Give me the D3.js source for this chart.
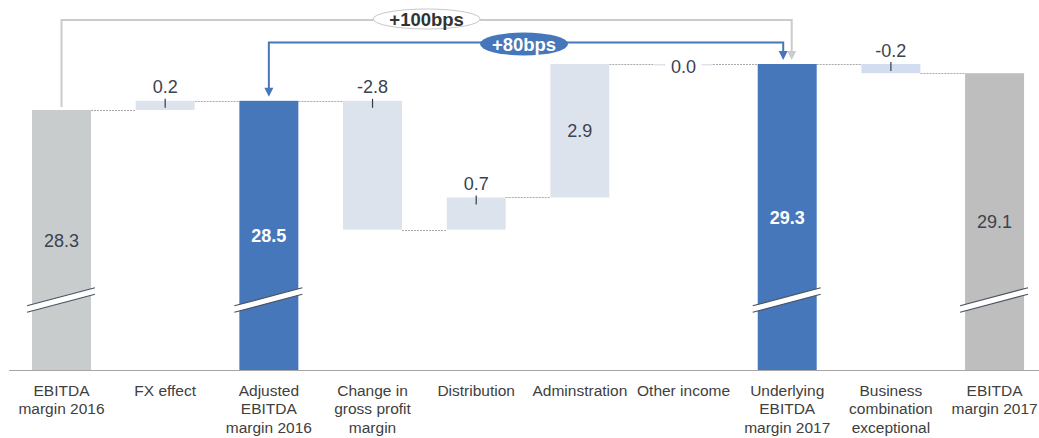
<!DOCTYPE html>
<html><head><meta charset="utf-8">
<script src="https://cdn.jsdelivr.net/npm/d3@7"></script>
<style>body{margin:0;background:#fff}svg{display:block;font-family:"Liberation Sans",Arial,sans-serif}</style>
</head><body><svg id="c" width="1039" height="438"></svg>
<script>
const categories = [["EBITDA","margin 2016"],["FX effect"],["Adjusted","EBITDA","margin 2016"],["Change in","gross profit","margin"],["Distribution"],["Adminstration"],["Other income"],["Underlying","EBITDA","margin 2017"],["Business","combination","exceptional"],["EBITDA","margin 2017"]];
const values = [28.3, 0.2, 28.5, -2.8, 0.7, 2.9, 0.0, 29.3, -0.2, 29.1];
const kinds = ["total","delta","total","delta","delta","delta","delta","total","delta","total"];
const colors = ["#c9cccc","#dde3ed","#4677bb","#dde3ed","#dde3ed","#dde3ed","#dde3ed","#4677bb","#d2ddef","#bebebe"];
const labelPos = ["inside","above","insideBold","above","above","inside","line","insideBold","above","inside"];
const bracketLabels = ["+100bps","+80bps"];

const svg = d3.select("#c");
const x = d3.scaleBand().domain(d3.range(values.length)).range([9.67,1046.4]).paddingInner(0.431).paddingOuter(0.2155);
const y = d3.scaleLinear().domain([22.65, 29.3]).range([370, 64]);
const bw = x.bandwidth();

let run = 0;
const bars = values.map((v,i)=>{
  let s,e;
  if(kinds[i]==="total"){ s = y.domain()[0]; e = v; run = v; }
  else { s = run; e = run + v; run = e; }
  return {i, v, s, e, end: run};
});

const g = svg.append("g");
for(let i=0;i<bars.length-1;i++){
  const yy = Math.round(y(bars[i].end))+0.5;
  g.append("line").attr("x1",x(i)+bw).attr("x2",x(i+1)).attr("y1",yy).attr("y2",yy)
    .attr("stroke","#aaaaaa").attr("stroke-width",1).attr("stroke-dasharray","2,1");
}

g.selectAll("rect.bar").data(bars).join("rect").attr("class","bar")
  .attr("x",d=>x(d.i)).attr("width",bw)
  .attr("y",d=>Math.min(y(d.s),y(d.e)))
  .attr("height",d=>Math.max(1.5,Math.abs(y(d.s)-y(d.e))))
  .attr("fill",d=>colors[d.i]);

bars.filter(d=>kinds[d.i]==="total").forEach(d=>{
  const x0 = x(d.i)-5, x1 = x(d.i)+bw+4;
  const yc = 300, slope = 18/68, h = 6.5;
  const yl = yc + (x1-x0)/2*slope, yr = yc - (x1-x0)/2*slope;
  g.append("polygon").attr("points",`${x0},${yl-h/2} ${x1},${yr-h/2} ${x1},${yr+h/2} ${x0},${yl+h/2}`).attr("fill","#fff");
  [-h/2,h/2].forEach(o=>g.append("line").attr("x1",x0).attr("y1",yl+o).attr("x2",x1).attr("y2",yr+o)
    .attr("stroke","#4a5262").attr("stroke-width",1.2));
});

svg.append("line").attr("x1",9).attr("x2",1039).attr("y1",370.5).attr("y2",370.5).attr("stroke","#a6a6a6").attr("stroke-width",1);

const fmt = d3.formatLocale({decimal:".",thousands:",",grouping:[3],currency:["",""],minus:"-"}).format(".1f");
bars.forEach(d=>{
  const cx = x(d.i)+bw/2;
  const top = Math.min(y(d.s),y(d.e)), bot = Math.max(y(d.s),y(d.e));
  const p = labelPos[d.i];
  const txt = fmt(d.v);
  if(p==="above"){
    g.append("line").attr("x1",cx).attr("x2",cx).attr("y1",top-2).attr("y2",top+7).attr("stroke","#333c48").attr("stroke-width",1.2);
    g.append("text").attr("x",cx).attr("y",top-7.5).attr("text-anchor","middle").attr("font-size",18).attr("fill","#3a4350").text(txt);
  } else if(p==="line"){
    g.append("rect").attr("x",cx-18).attr("y",top-9).attr("width",36).attr("height",18).attr("fill","#fff");
    g.append("text").attr("x",cx).attr("y",top+9).attr("text-anchor","middle").attr("font-size",18).attr("fill","#3a4350").text(txt);
  } else {
    const bold = p==="insideBold";
    g.append("text").attr("x",cx).attr("y",(top+bot)/2+6.5).attr("text-anchor","middle").attr("font-size",18)
      .attr("font-weight",bold?"bold":"normal").attr("fill",bold?"#fff":"#3a4350").text(txt);
  }
});

categories.forEach((lines,i)=>{
  const t = svg.append("text").attr("text-anchor","middle").attr("font-size",15.5).attr("fill","#404040");
  lines.forEach((l,k)=>t.append("tspan").attr("x",x(i)+bw/2).attr("y",395.5+k*18.8).text(l));
});

function arrowHead(cx,tip,col){
  svg.append("path").attr("d",`M${cx-4.5},${tip-9} L${cx+4.5},${tip-9} L${cx},${tip} Z`).attr("fill",col);
}
const c0 = x(0)+bw/2, c2 = x(2)+bw/2, c7 = x(7)+bw/2;
const gx1 = c7+4.5, gyTop = 20;
svg.append("path").attr("d",`M${c0},${y(values[0])-3} V${gyTop} H${gx1} V${y(values[7])-8}`).attr("fill","none").attr("stroke","#c9cccc").attr("stroke-width",2);
arrowHead(gx1,y(values[7])-4,"#c9cccc");
const bx1 = c7-4, byTop = 42.5;
svg.append("path").attr("d",`M${c2},${y(values[2])-8} V${byTop} H${bx1} V${y(values[7])-8}`).attr("fill","none").attr("stroke","#4677bb").attr("stroke-width",2);
arrowHead(c2,y(values[2])-4,"#4677bb");
arrowHead(bx1,y(values[7])-4,"#4677bb");
const gmx = (c0+gx1)/2;
svg.append("ellipse").attr("cx",gmx).attr("cy",19).attr("rx",53.5).attr("ry",10).attr("fill","#fff").attr("stroke","#c8c8c8").attr("stroke-width",1);
svg.append("text").attr("x",gmx).attr("y",25.5).attr("text-anchor","middle").attr("font-size",18.5).attr("font-weight","bold").attr("fill","#333").text(bracketLabels[0]);
const bmx = (c2+bx1)/2 - 2;
svg.append("ellipse").attr("cx",bmx).attr("cy",44).attr("rx",44).attr("ry",11.5).attr("fill","#4677bb");
svg.append("text").attr("x",bmx).attr("y",50.5).attr("text-anchor","middle").attr("font-size",18.5).attr("font-weight","bold").attr("fill","#fff").text(bracketLabels[1]);
</script></body></html>
